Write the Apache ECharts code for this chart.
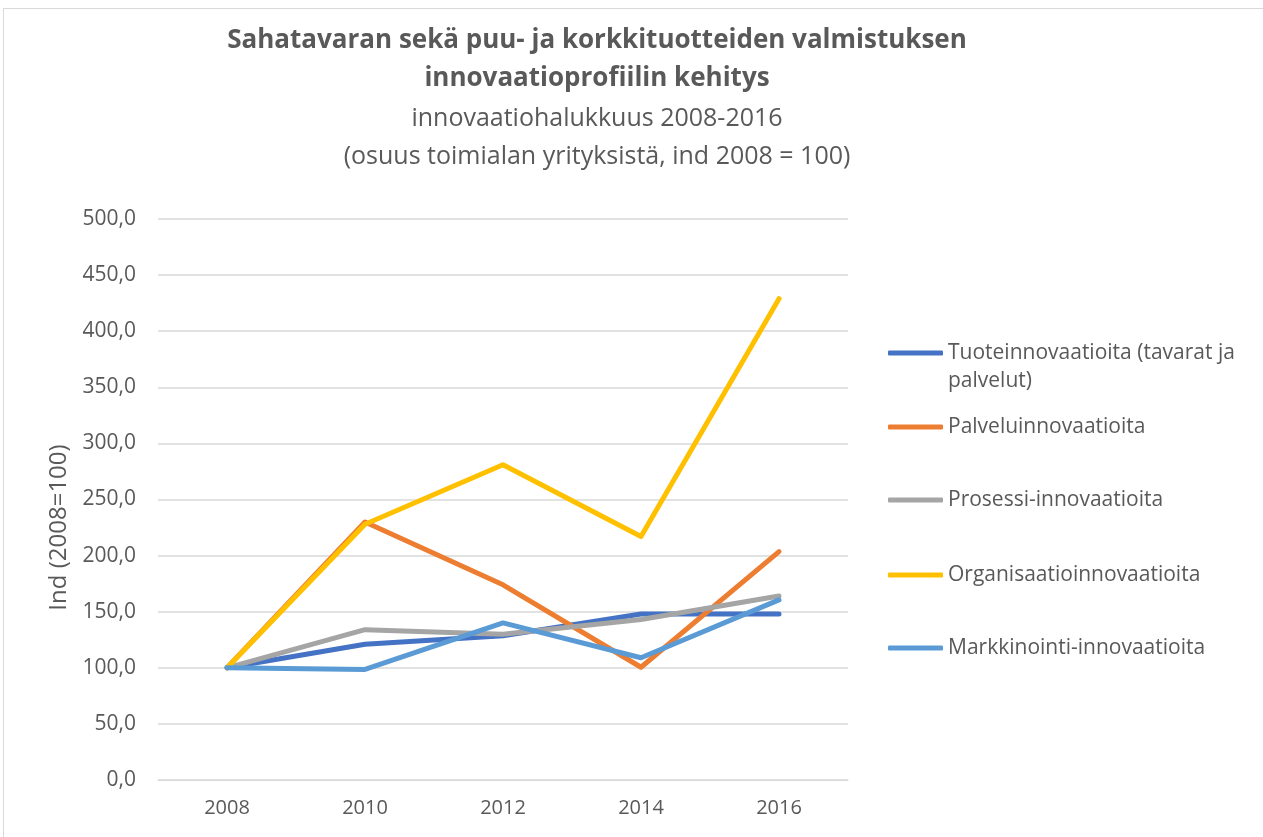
<!DOCTYPE html>
<html><head><meta charset="utf-8">
<script src="https://cdn.jsdelivr.net/npm/echarts@6/dist/echarts.min.js"></script>
<style>
html,body{margin:0;padding:0;background:#fff;}
#frame{position:absolute;left:3px;top:8px;width:1300px;height:900px;border:1px solid #d9d9d9;box-sizing:border-box;}
#c{position:absolute;left:0;top:0;width:1263px;height:837px;}
</style></head>
<body><div id="frame"></div><div id="c"></div>
<script>
const years = ['2008','2010','2012','2014','2016'];
const seriesNames = ['Tuoteinnovaatioita (tavarat ja palvelut)','Palveluinnovaatioita','Prosessi-innovaatioita','Organisaatioinnovaatioita','Markkinointi-innovaatioita'];
const tuote = [100, 121, 128.5, 148, 148];
const palvelu = [100, 230, 174, 100.5, 203.5];
const prosessi = [100, 134, 130, 143, 164];
const organisaatio = [100, 228, 281, 217, 429];
const markkinointi = [100, 98.5, 140, 109, 160.5];
const colors = ['#4472C4','#ED7D31','#A5A5A5','#FFC000','#5B9BD5'];
const allData = [tuote, palvelu, prosessi, organisaatio, markkinointi];
const legendCenters = [353, 427, 500, 575, 648];
const font = '"Open Sans", "Noto Sans", sans-serif';

const chart = echarts.init(document.getElementById('c'));
const legends = seriesNames.map((n,i)=>({
  data:[n], orient:'vertical', left:888, top:legendCenters[i]-14, padding:0,
  icon:'roundRect', itemWidth:55, itemHeight:5, itemGap:0,
  formatter: i===0 ? 'Tuoteinnovaatioita (tavarat ja' : '{name}',
  textStyle:{fontFamily:font, fontSize:21, color:'#595959', lineHeight:28, padding:[0,0,0,0]},
  selectedMode:false
}));
chart.setOption({
  animation:false,
  color: colors,
  title:{
    text:'Sahatavaran sekä puu- ja korkkituotteiden valmistuksen\ninnovaatioprofiilin kehitys',
    subtext:'innovaatiohalukkuus 2008-2016\n(osuus toimialan yrityksistä, ind 2008 = 100)',
    left:592, top:17, textAlign:'center', itemGap:2,
    textStyle:{fontFamily:font, fontSize:26, fontWeight:'bold', color:'#595959', lineHeight:38},
    subtextStyle:{fontFamily:font, fontSize:25, color:'#595959', lineHeight:38}
  },
  legend: legends,
  graphic:[{type:'text', left:948, top:381-14, style:{text:'palvelut)', font:'21px '+font, fill:'#595959', lineHeight:28}}],
  grid:{left:158, right:415, top:219, bottom:57},
  xAxis:{
    type:'category', data:years, boundaryGap:true,
    axisLine:{lineStyle:{color:'#d9d9d9', width:1}},
    axisTick:{show:false},
    axisLabel:{fontFamily:font, fontSize:20, color:'#595959', margin:18}
  },
  yAxis:{
    type:'value', min:0, max:500, interval:50,
    name:'Ind (2008=100)', nameLocation:'middle', nameGap:87,
    nameTextStyle:{fontFamily:font, fontSize:24, color:'#595959', padding:[0,56,0,0]},
    axisLine:{show:false}, axisTick:{show:false},
    splitLine:{lineStyle:{color:'#d9d9d9', width:1.5}},
    axisLabel:{fontFamily:font, fontSize:21, color:'#595959', margin:22,
      formatter:v=>v.toFixed(1).replace('.',',')}
  },
  series: seriesNames.map((n,i)=>({
    name:n, type:'line', data:allData[i], showSymbol:false, symbol:'none',
    lineStyle:{width:5, color:colors[i], cap:'round', join:'round'},
    itemStyle:{color:colors[i]}
  }))
});
</script></body></html>
